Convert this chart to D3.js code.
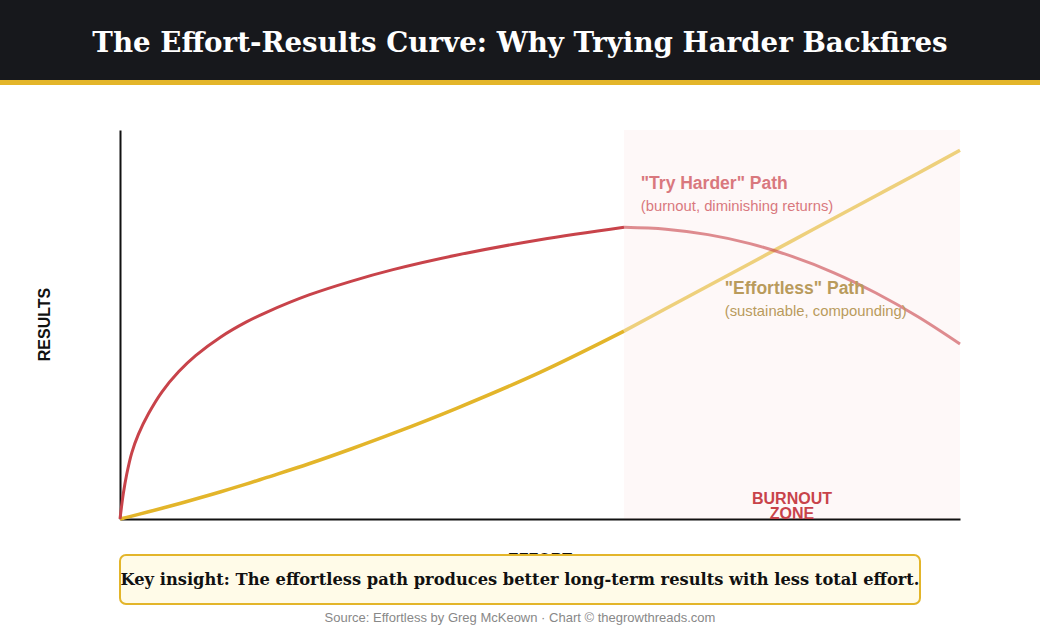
<!doctype html>
<html>
<head>
<meta charset="utf-8">
<title>The Effort-Results Curve</title>
<script src="https://d3js.org/d3.v7.min.js"></script>
<style>
  body { margin: 0; background: #fff; }
  svg { display: block; }
</style>
</head>
<body>
<div id="chart"></div>
<script>
// effort levels (x) and results for both paths
var effort = [0, 0.04, 0.08, 0.14, 0.22, 0.34, 0.5, 0.7, 0.9, 1.2, 1.5, 1.75, 2.25, 2.75, 3.25, 4, 5, 6, 6.5, 7, 7.5, 8, 8.5, 9, 9.5, 10];
var tryHarder = [0, 6.6, 11.5, 17, 21.8, 27.1, 32.7, 37.9, 42, 46.8, 50.6, 53.2, 57.6, 61.1, 64.1, 67.8, 71.8, 75, 74.5, 73.1, 70.8, 67.5, 63.3, 58.1, 52, 45];
var effortless = [0, 0.21, 0.43, 0.75, 1.19, 1.85, 2.76, 3.93, 5.13, 7, 8.96, 10.7, 14.2, 18, 22, 28.4, 37.7, 48.3, 54.1, 59.9, 65.7, 71.5, 77.3, 83.1, 88.9, 94.8];
var burnoutStart = 6, burnoutEnd = 10;

var W = 1040, H = 630;
var margin = {top: 130, right: 80, bottom: 111, left: 120},
    width = W - margin.left - margin.right,
    height = H - margin.top - margin.bottom;

var svg = d3.select("#chart").append("svg")
    .attr("width", W).attr("height", H);

// header
svg.append("rect").attr("x", 0).attr("y", 0).attr("width", W).attr("height", 80).attr("fill", "#17181c");
svg.append("rect").attr("x", 0).attr("y", 80).attr("width", W).attr("height", 5).attr("fill", "#e3b52a");
svg.append("text")
    .attr("x", W / 2).attr("y", 52)
    .attr("text-anchor", "middle")
    .style("font-family", "Georgia, 'DejaVu Serif', serif")
    .style("font-weight", "bold").style("font-size", "27.7px")
    .attr("fill", "#fff")
    .text("The Effort-Results Curve: Why Trying Harder Backfires");

var g = svg.append("g").attr("transform", "translate(" + margin.left + "," + margin.top + ")");

var x = d3.scaleLinear().domain([0, 10]).range([0, width]);
var y = d3.scaleLinear().domain([0, 100]).range([height, 0]);

// axes (no ticks)
g.append("g").attr("transform", "translate(0," + height + ")")
    .call(d3.axisBottom(x).tickValues([]).tickSizeOuter(0))
    .select(".domain").attr("stroke", "#111").attr("stroke-width", 2);
g.append("g")
    .call(d3.axisLeft(y).tickValues([]).tickSizeOuter(0))
    .select(".domain").attr("stroke", "#111").attr("stroke-width", 2);

// burnout zone
g.append("rect")
    .attr("x", x(burnoutStart)).attr("y", y(100))
    .attr("width", x(burnoutEnd) - x(burnoutStart))
    .attr("height", y(0) - y(100))
    .attr("fill", "rgba(220, 70, 80, 0.04)");

var rows = effort.map(function(e, i) { return {e: e, red: tryHarder[i], gold: effortless[i]}; });
var before = rows.filter(function(d) { return d.e <= burnoutStart; });
var after = rows.filter(function(d) { return d.e >= burnoutStart; });

function line(key) {
    return d3.line().curve(d3.curveCatmullRom.alpha(0.5))
        .x(function(d) { return x(d.e); })
        .y(function(d) { return y(d[key]); });
}

g.append("path").datum(before).attr("d", line("gold"))
    .attr("fill", "none").attr("stroke", "#e3b52a").attr("stroke-width", 3.5);
g.append("path").datum(after).attr("d", line("gold"))
    .attr("fill", "none").attr("stroke", "#e3b52a").attr("stroke-width", 3.5).attr("opacity", 0.6);
g.append("path").datum(before).attr("d", line("red"))
    .attr("fill", "none").attr("stroke", "#c8434a").attr("stroke-width", 3);
g.append("path").datum(after).attr("d", line("red"))
    .attr("fill", "none").attr("stroke", "#c8434a").attr("stroke-width", 3).attr("opacity", 0.6);

// annotations
var sans = "Arial, 'Liberation Sans', Helvetica, sans-serif";
function note(tx, ty, txt, size, weight, color) {
    g.append("text").attr("x", tx).attr("y", ty)
        .style("font-family", sans).style("font-size", size + "px")
        .style("font-weight", weight).attr("fill", color).text(txt);
}
note(x(6.2), 59, "\"Try Harder\" Path", 17.5, "bold", "#d9787e");
note(x(6.2), 81, "(burnout, diminishing returns)", 14.8, "normal", "#d9787e");
note(x(7.2), 164, "\"Effortless\" Path", 17.5, "bold", "#b99b5c");
note(x(7.2), 186, "(sustainable, compounding)", 14.8, "normal", "#b99b5c");

var zoneMid = x((burnoutStart + burnoutEnd) / 2);
["BURNOUT", "ZONE"].forEach(function(t, i) {
    g.append("text").attr("x", zoneMid).attr("y", height - 15 + i * 15)
        .attr("text-anchor", "middle")
        .style("font-family", sans).style("font-size", "16px").style("font-weight", "bold")
        .attr("fill", "#c8434a").text(t);
});

// axis labels
g.append("text")
    .attr("transform", "translate(-70," + (height / 2) + ") rotate(-90)")
    .attr("text-anchor", "middle")
    .style("font-family", sans).style("font-size", "16px").style("font-weight", "bold")
    .attr("fill", "#111").text("RESULTS");
g.append("text")
    .attr("x", width / 2).attr("y", height + 46)
    .attr("text-anchor", "middle")
    .style("font-family", sans).style("font-size", "16px").style("font-weight", "bold")
    .attr("fill", "#111").text("EFFORT");

// insight box
svg.append("rect")
    .attr("x", 120).attr("y", 555).attr("width", 800).attr("height", 49)
    .attr("rx", 6)
    .attr("fill", "#fffbe8").attr("stroke", "#e3b52a").attr("stroke-width", 2);
svg.append("text")
    .attr("x", 520).attr("y", 585)
    .attr("text-anchor", "middle")
    .style("font-family", "Georgia, 'DejaVu Serif', serif")
    .style("font-weight", "bold").style("font-size", "16.3px")
    .attr("fill", "#111")
    .text("Key insight: The effortless path produces better long-term results with less total effort.");

svg.append("text")
    .attr("x", 520).attr("y", 622)
    .attr("text-anchor", "middle")
    .style("font-family", sans).style("font-size", "13px")
    .attr("fill", "#888")
    .text("Source: Effortless by Greg McKeown · Chart © thegrowthreads.com");
</script>
</body>
</html>
